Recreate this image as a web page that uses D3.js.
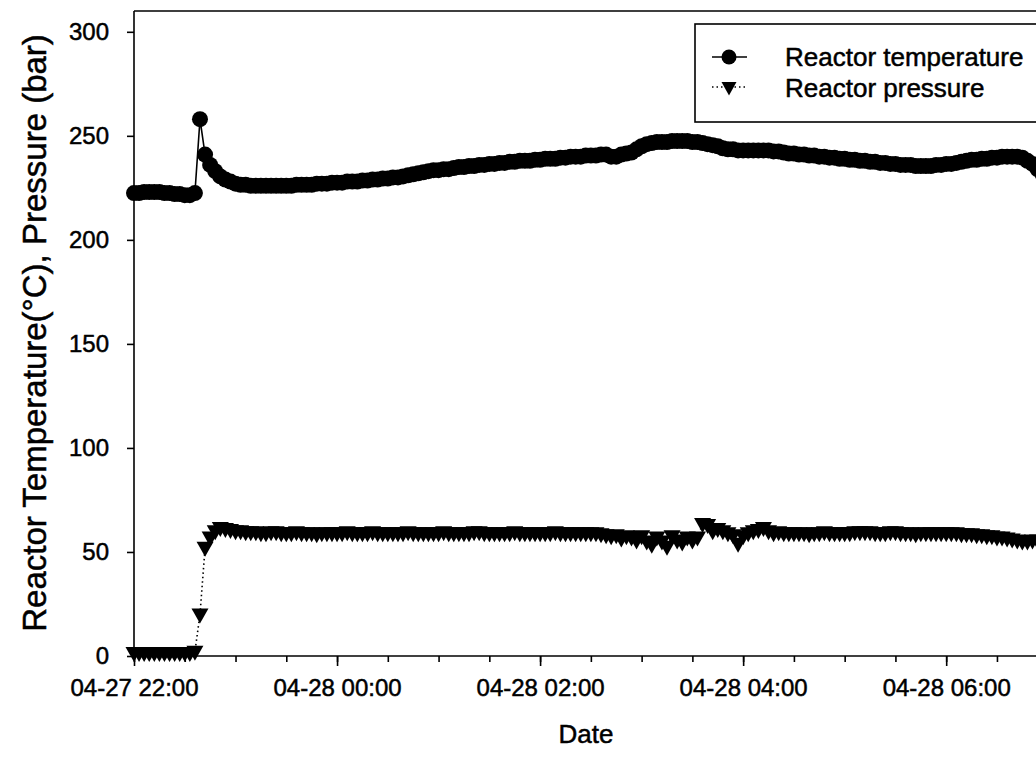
<!DOCTYPE html>
<html>
<head>
<meta charset="utf-8">
<script src="https://cdn.jsdelivr.net/npm/d3@7"></script>
<style>
    body { margin: 0; background: #fff; }
    svg { display: block; font-family: "Liberation Sans", Arial, sans-serif; }
    svg text { stroke: #000; stroke-width: 0.5; }
    .axis path, .axis line { stroke: #000; stroke-width: 1.6; }
    .axis text { font-size: 24px; fill: #000; }
</style>
</head>
<body>
<svg width="1036" height="757"></svg>
<script>
// sample times, one every 3 minutes (04-27 22:00 .. 04-28 07:00), 10 per row = 30 min
var times = [
    "22:00", "22:03", "22:06", "22:09", "22:12", "22:15", "22:18", "22:21", "22:24", "22:27",
    "22:30", "22:33", "22:36", "22:39", "22:42", "22:45", "22:48", "22:51", "22:54", "22:57",
    "23:00", "23:03", "23:06", "23:09", "23:12", "23:15", "23:18", "23:21", "23:24", "23:27",
    "23:30", "23:33", "23:36", "23:39", "23:42", "23:45", "23:48", "23:51", "23:54", "23:57",
    "00:00", "00:03", "00:06", "00:09", "00:12", "00:15", "00:18", "00:21", "00:24", "00:27",
    "00:30", "00:33", "00:36", "00:39", "00:42", "00:45", "00:48", "00:51", "00:54", "00:57",
    "01:00", "01:03", "01:06", "01:09", "01:12", "01:15", "01:18", "01:21", "01:24", "01:27",
    "01:30", "01:33", "01:36", "01:39", "01:42", "01:45", "01:48", "01:51", "01:54", "01:57",
    "02:00", "02:03", "02:06", "02:09", "02:12", "02:15", "02:18", "02:21", "02:24", "02:27",
    "02:30", "02:33", "02:36", "02:39", "02:42", "02:45", "02:48", "02:51", "02:54", "02:57",
    "03:00", "03:03", "03:06", "03:09", "03:12", "03:15", "03:18", "03:21", "03:24", "03:27",
    "03:30", "03:33", "03:36", "03:39", "03:42", "03:45", "03:48", "03:51", "03:54", "03:57",
    "04:00", "04:03", "04:06", "04:09", "04:12", "04:15", "04:18", "04:21", "04:24", "04:27",
    "04:30", "04:33", "04:36", "04:39", "04:42", "04:45", "04:48", "04:51", "04:54", "04:57",
    "05:00", "05:03", "05:06", "05:09", "05:12", "05:15", "05:18", "05:21", "05:24", "05:27",
    "05:30", "05:33", "05:36", "05:39", "05:42", "05:45", "05:48", "05:51", "05:54", "05:57",
    "06:00", "06:03", "06:06", "06:09", "06:12", "06:15", "06:18", "06:21", "06:24", "06:27",
    "06:30", "06:33", "06:36", "06:39", "06:42", "06:45", "06:48", "06:51", "06:54", "06:57",
    "07:00"
];

var temperature = [
    222.5, 222.5, 223, 223, 223, 223, 222.5, 222.5, 222, 222,
    221.5, 221.5, 222.5, 258, 241, 236, 233, 230.5, 229, 228,
    227, 226.5, 226.5, 226, 226, 226, 226, 226, 226, 226,
    226, 226, 226.5, 226.5, 226.5, 226.5, 227, 227, 227, 227.5,
    227.5, 227.5, 228, 228, 228, 228.5, 228.5, 229, 229, 229.5,
    229.5, 230, 230, 230.5, 231, 231.5, 232, 232.5, 233, 233.5,
    233.5, 234, 234, 234.5, 235, 235, 235.5, 235.5, 236, 236,
    236.5, 236.5, 237, 237, 237.5, 237.5, 238, 238, 238, 238.5,
    238.5, 239, 239, 239, 239.5, 239.5, 240, 240, 240, 240.5,
    240.5, 240.5, 241, 241, 240, 240, 241, 241.5, 242, 243.5,
    245, 246, 246.5, 247, 247, 247, 247.5, 247.5, 247.5, 247.5,
    247, 247, 246.5, 246, 245.5, 245, 244, 243.5, 243.5, 243,
    243, 243, 243, 243, 243, 243, 242.5, 242.5, 242, 241.5,
    241.5, 241, 241, 240.5, 240.5, 240, 240, 239.5, 239.5, 239,
    239, 238.5, 238.5, 238, 238, 237.5, 237.5, 237, 237, 236.5,
    236.5, 236, 236, 236, 235.5, 235.5, 235.5, 235.5, 236, 236,
    236.5, 236.5, 237, 237.5, 238, 238.5, 238.5, 239, 239, 239.5,
    239.5, 240, 240, 240, 240, 239.5, 238, 236.5, 234, 231.5,
    229
];

var pressure = [
    1.5, 1.5, 1.5, 1.5, 1.5, 1.5, 1.5, 1.5, 1.5, 1.5,
    1.5, 1.5, 2, 20, 52, 57, 60, 61.5, 61, 60.5,
    60, 60, 59.5, 59.5, 59.5, 59, 59, 59.5, 59.5, 59,
    59, 59, 59.5, 59, 59, 59, 58.5, 59, 59, 59,
    59, 59, 59.5, 59, 59, 59, 59, 59.5, 59, 59,
    59, 59, 59, 59, 59.5, 59, 59, 59, 59, 59,
    59, 59.5, 59, 59, 59, 59, 59, 59.5, 59.5, 59,
    59, 59, 59, 59, 59, 59.5, 59, 59, 59, 59,
    59, 59, 59, 59.5, 59, 59, 59, 59, 59, 59,
    59, 59, 58.5, 58, 57.5, 58, 56.5, 57.5, 57, 55.5,
    57.5, 55, 53.5, 57, 55, 52.5, 57.5, 55.5, 54.5, 57,
    55.5, 57, 63.5, 63, 60, 61, 60, 59, 58, 54,
    57.5, 59, 60, 60.5, 61.5, 60, 59, 59.5, 59, 59,
    59, 59, 59, 58.5, 59, 59, 59.5, 59, 59, 59,
    59, 59, 59.5, 59.5, 59.5, 59.5, 59, 59, 59, 59.5,
    59.5, 59, 59, 59, 58.5, 59, 59, 59, 59, 59,
    59, 59, 59, 58.5, 58.5, 58.5, 58, 58, 57.5, 57.5,
    57, 57, 56.5, 56, 55.5, 55, 55, 55.5, 55.5, 55,
    55
];

var yTicks = [0, 50, 100, 150, 200, 250, 300];
var seriesNames = ["Reactor temperature", "Reactor pressure"];
var xTitle = "Date";
var yTitle = "Reactor Temperature(\u00B0C), Pressure (bar)";

var parseTime = d3.timeParse("%Y-%m-%d %H:%M");
function toDate(t) {
    var day = +t.slice(0, 2) >= 12 ? "2009-04-27 " : "2009-04-28 ";
    return parseTime(day + t);
}

var data = times.map(function(t, i) {
    return { date: toDate(t), temp: temperature[i], pres: pressure[i] };
});

var svg = d3.select("svg");
var plotLeft = 134, plotTop = 11, plotBottom = 656, plotRight = 1200;

var x = d3.scaleTime()
    .domain([parseTime("2009-04-27 22:00"), parseTime("2009-04-28 08:30")])
    .range([plotLeft, plotRight]);

var y = d3.scaleLinear()
    .domain([0, 310])
    .range([plotBottom, plotTop]);

// FRAME (top + right)
svg.append("path")
    .attr("d", "M" + plotLeft + "," + plotTop + "H" + plotRight + "V" + plotBottom)
    .attr("fill", "none")
    .attr("stroke", "#000")
    .attr("stroke-width", 1.6);

// X AXIS
var xAxis = d3.axisBottom(x)
    .ticks(d3.timeHour.every(2))
    .tickSize(10)
    .tickPadding(13)
    .tickFormat(d3.timeFormat("%m-%d %H:%M"));
var gx = svg.append("g")
    .attr("class", "axis")
    .attr("transform", "translate(0," + plotBottom + ")")
    .call(xAxis);
gx.select(".domain").attr("d", "M" + plotLeft + ",0H" + plotRight);

var xMinor = d3.axisBottom(x)
    .ticks(d3.timeMinute.every(30))
    .tickSize(6)
    .tickFormat("");
var gxm = svg.append("g")
    .attr("class", "axis")
    .attr("transform", "translate(0," + plotBottom + ")")
    .call(xMinor);
gxm.select(".domain").remove();

// Y AXIS
var yAxis = d3.axisLeft(y)
    .tickValues(yTicks)
    .tickSize(7)
    .tickPadding(18);
var gy = svg.append("g")
    .attr("class", "axis")
    .attr("transform", "translate(" + plotLeft + ",0)")
    .call(yAxis);
gy.select(".domain").attr("d", "M0," + plotTop + "V" + plotBottom);

// AXIS TITLES
svg.append("text")
    .attr("x", 586)
    .attr("y", 743)
    .attr("text-anchor", "middle")
    .attr("font-size", 26)
    .text(xTitle);

svg.append("text")
    .attr("transform", "translate(46,333) rotate(-90)")
    .attr("text-anchor", "middle")
    .attr("font-size", 33)
    .text(yTitle);

// SERIES
var tempLine = d3.line()
    .x(function(d) { return x(d.date); })
    .y(function(d) { return y(d.temp); });

var presLine = d3.line()
    .x(function(d) { return x(d.date); })
    .y(function(d) { return y(d.pres); });

var triangle = "M-8.5,-6L8.5,-6L0,9Z";

svg.append("path")
    .attr("d", presLine(data))
    .attr("fill", "none")
    .attr("stroke", "#000")
    .attr("stroke-width", 1.6)
    .attr("stroke-dasharray", "1.5,3");

svg.selectAll(".pres")
    .data(data)
    .enter()
    .append("path")
    .attr("class", "pres")
    .attr("d", triangle)
    .attr("transform", function(d) { return "translate(" + x(d.date) + "," + y(d.pres) + ")"; })
    .attr("fill", "#000");

svg.append("path")
    .attr("d", tempLine(data))
    .attr("fill", "none")
    .attr("stroke", "#000")
    .attr("stroke-width", 1.6);

svg.selectAll(".temp")
    .data(data)
    .enter()
    .append("circle")
    .attr("class", "temp")
    .attr("cx", function(d) { return x(d.date); })
    .attr("cy", function(d) { return y(d.temp); })
    .attr("r", 8)
    .attr("fill", "#000");

// LEGEND
var legend = svg.append("g").attr("transform", "translate(695,24)");
legend.append("rect")
    .attr("width", 400)
    .attr("height", 98)
    .attr("fill", "#fff")
    .attr("stroke", "#000")
    .attr("stroke-width", 1.6);

legend.append("line")
    .attr("x1", 17).attr("x2", 52).attr("y1", 33).attr("y2", 33)
    .attr("stroke", "#000").attr("stroke-width", 1.6);
legend.append("circle")
    .attr("cx", 34).attr("cy", 33).attr("r", 7.5).attr("fill", "#000");

legend.append("line")
    .attr("x1", 17).attr("x2", 52).attr("y1", 63).attr("y2", 63)
    .attr("stroke", "#000").attr("stroke-width", 1.6)
    .attr("stroke-dasharray", "1.5,3");
legend.append("path")
    .attr("d", "M-7.5,-5L7.5,-5L0,8.5Z")
    .attr("transform", "translate(34,63)")
    .attr("fill", "#000");

legend.selectAll(".ltext")
    .data(seriesNames)
    .enter()
    .append("text")
    .attr("class", "ltext")
    .attr("x", 90)
    .attr("y", function(d, i) { return 33 + i * 31; })
    .attr("dy", "0.35em")
    .attr("font-size", 26)
    .text(function(d) { return d; });
</script>
</body>
</html>
